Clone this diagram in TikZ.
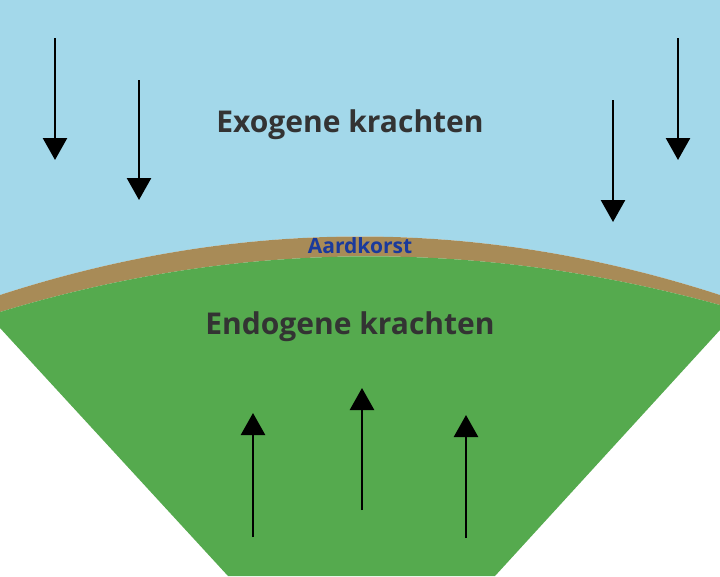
\documentclass[tikz,border=0pt]{standalone}
\usepackage{fontspec}
\setmainfont{Open Sans}
\usetikzlibrary{arrows.meta}
\definecolor{sky}{HTML}{A3D8EA}
\definecolor{crust}{HTML}{A88B57}
\definecolor{earth}{HTML}{55AA4E}
\definecolor{txt}{HTML}{333333}
\definecolor{lbl}{HTML}{1A3A9C}
\tikzset{force/.style={line width=2.6pt,-{Triangle[width=24pt,length=22pt]}},
 title/.style={font=\bfseries\fontsize{30}{34}\selectfont,text=txt}}
\begin{document}
\begin{tikzpicture}[x=1pt,y=-1pt]
\useasboundingbox (0,0) rectangle (720,576);
\fill[white] (0,0) rectangle (720,576);
\fill[sky] (0,0) -- (720,0) -- (720,295) .. controls (480,217) and (240,217) .. (0,295) -- cycle;
\fill[crust] (0,295) .. controls (240,217) and (480,217) .. (720,295) -- (720,305) .. controls (480,239) and (240,239) .. (0,312) -- cycle;
\fill[earth] (0,312) .. controls (240,239) and (480,239) .. (720,305) -- (720,330) -- (495,576) -- (228,576) -- (0,328) -- cycle;
\coordinate (d1s) at (55,38); \coordinate (d1e) at (55,160);
\coordinate (d2s) at (139,80); \coordinate (d2e) at (139,200);
\coordinate (d3s) at (613,100); \coordinate (d3e) at (613,222);
\coordinate (d4s) at (678,38); \coordinate (d4e) at (678,160);
\coordinate (u1s) at (253,537); \coordinate (u1e) at (253,413);
\coordinate (u2s) at (362,510); \coordinate (u2e) at (362,388);
\coordinate (u3s) at (466,538); \coordinate (u3e) at (466,415);
\foreach \a in {d1,d2,d3,d4,u1,u2,u3} \draw[force] (\a s) -- (\a e);
\node[title] (exo) at (350,125) {Exogene krachten};
\node[title] (endo) at (350,327) {Endogene krachten};
\node[font=\bfseries\fontsize{21}{24}\selectfont,text=lbl] (crl) at (360,246) {Aardkorst};
\end{tikzpicture}
\end{document}
